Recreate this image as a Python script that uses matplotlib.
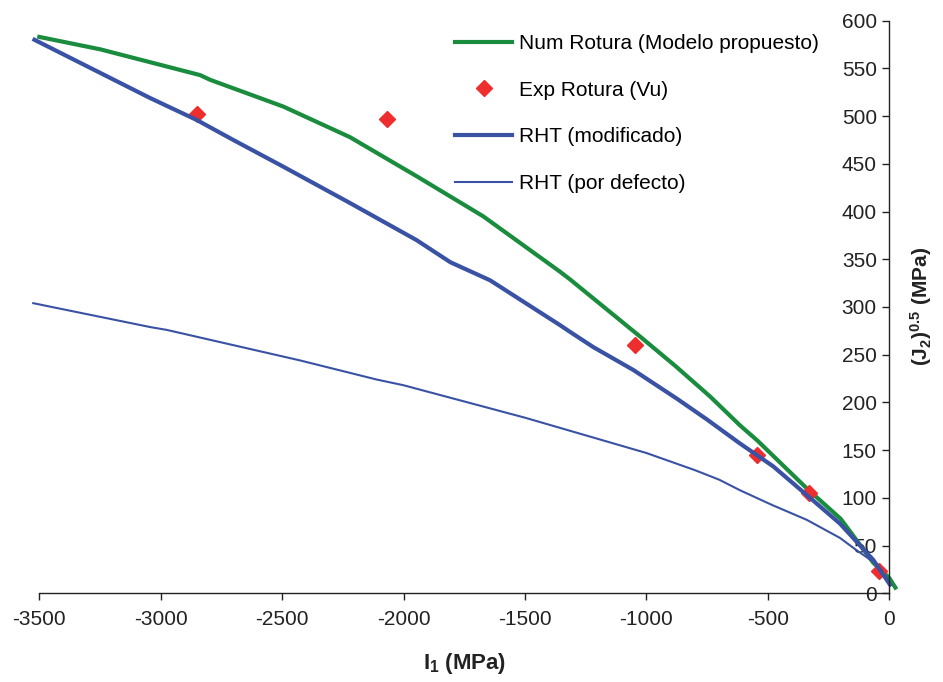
import matplotlib.pyplot as plt

plt.rcParams['font.family'] = ['Liberation Sans', 'DejaVu Sans']
plt.rcParams['axes.unicode_minus'] = False
plt.rcParams['mathtext.fontset'] = 'custom'
plt.rcParams['mathtext.rm'] = 'Liberation Sans:bold'
plt.rcParams['mathtext.default'] = 'rm'

# Num Rotura (Modelo propuesto)
num_i1 = [-3500, -3249, -2838, -2796, -2495, -2221, -1946, -1672, -1356, -1315,
          -1026, -880, -737, -615, -543, -340, -200, -66, 0, 25]
num_j2 = [583, 570, 543, 538, 510, 478, 437, 395, 337, 329,
          269, 238, 206, 176, 160, 110, 78, 32, 16, 6]

# Exp Rotura (Vu)
exp_i1 = [-2852, -2067, -1046, -543, -331, -41]
exp_j2 = [502, 497, 260, 145, 105, 23]

# RHT (modificado)
mod_i1 = [-3520, -3044, -2852, -2701, -2495, -2221, -1946, -1808, -1644, -1356,
          -1315, -1219, -1054, -875, -750, -615, -478, -340, -203, -66, 3]
mod_j2 = [580, 519, 496, 475, 447, 409, 370, 347, 328, 281,
          274, 258, 234, 204, 182, 157, 133, 103, 73, 35, 9]

# RHT (por defecto)
def_i1 = [-3525, -3044, -2975, -2426, -2111, -2000, -1500, -1000, -800, -700,
          -615, -478, -450, -340, -203, -134, -66, 3]
def_j2 = [304, 279, 276, 244, 224, 218, 184, 147, 129, 119,
          108, 92, 89, 77, 58, 45, 33, 9]

fig = plt.figure(figsize=(9.43, 6.82), dpi=100)
ax = fig.add_axes([39.3 / 943, 1 - 593.3 / 682, 850 / 943, 572.6 / 682])

green = '#1a8c3e'
blue = '#3a52a4'
red = '#ee2e2e'

ax.plot(num_i1, num_j2, color=green, lw=3, clip_on=False, label='Num Rotura (Modelo propuesto)')
ax.plot(exp_i1, exp_j2, ls='none', marker='D', ms=8.5, color=red, clip_on=False, label='Exp Rotura (Vu)')
ax.plot(mod_i1, mod_j2, color=blue, lw=3, clip_on=False, label='RHT (modificado)')
ax.plot(def_i1, def_j2, color=blue, lw=1.5, clip_on=False, label='RHT (por defecto)')

ax.set_xlim(-3500, 0)
ax.set_ylim(0, 600)
ax.set_xticks(range(-3500, 1, 500))
ax.set_yticks(range(0, 601, 50))

ax.spines['top'].set_visible(False)
ax.spines['right'].set_visible(False)
ax.spines['left'].set_position(('data', 0))
for s in ('left', 'bottom'):
    ax.spines[s].set_linewidth(1)
    ax.spines[s].set_color('#222222')
ax.tick_params(axis='both', labelsize=15, length=5, width=1, color='#222222', labelcolor='#222222')
ax.tick_params(axis='y', pad=4)
ax.tick_params(axis='x', pad=7)

ax.set_xlabel('I$_1$ (MPa)', fontsize=16, fontweight='bold', labelpad=16, color='#222222')
fig.text(921 / 943, 1 - 306 / 682, '(J$_2$)$^{0.5}$ (MPa)', rotation=90, fontsize=15,
         fontweight='bold', ha='center', va='center', color='#222222')

ax.legend(loc='upper left', bbox_to_anchor=(455 / 943, 1 - 34 / 682),
          bbox_transform=fig.transFigure, frameon=False, fontsize=15,
          handlelength=2.75, handletextpad=0.3, labelspacing=1.33,
          borderpad=0, borderaxespad=0)

fig.savefig('out.png', dpi=100)
